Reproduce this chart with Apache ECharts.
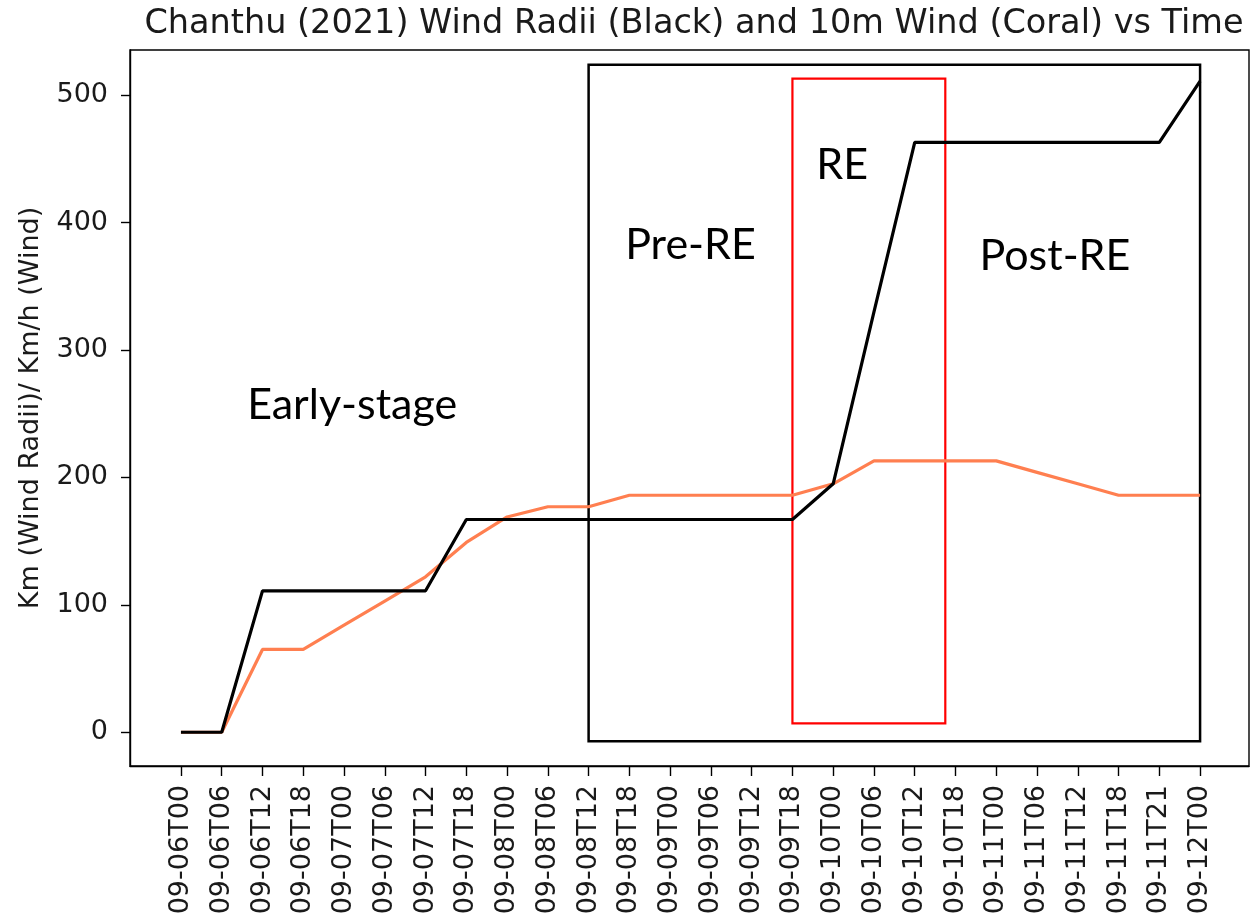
<!DOCTYPE html>
<html>
<head>
<meta charset="utf-8">
<script src="https://cdn.jsdelivr.net/npm/echarts@6/dist/echarts.min.js"></script>
<style>html,body{margin:0;padding:0;background:#fff}#c{width:1250px;height:921px}</style>
</head>
<body>
<div id="c"></div>
<script>
const categories = ['09-06T00','09-06T06','09-06T12','09-06T18','09-07T00','09-07T06','09-07T12','09-07T18','09-08T00','09-08T06','09-08T12','09-08T18','09-09T00','09-09T06','09-09T12','09-09T18','09-10T00','09-10T06','09-10T12','09-10T18','09-11T00','09-11T06','09-11T12','09-11T18','09-11T21','09-12T00'];
const windRadii = [0,0,111,111,111,111,111,167,167,167,167,167,167,167,167,167,195,330,463,463,463,463,463,463,463,511];
const wind10m = [0,0,65,65,84,103,122,149,169,177,177,186,186,186,186,186,195,213,213,213,213,204,195,186,186,186];
const yTicks = [0,100,200,300,400,500];
// stage boxes in data units: [xStart, yBottom, xEnd, yTop]
const stageBox = [10, -7, 25, 524];
const reBox = [15, 7, 18.75, 513];
// stage labels in data units
const stageLabels = ['Early-stage','Pre-RE','RE','Post-RE'];
const stageLabelX = [4.2, 12.5, 16.22, 21.44];
const stageLabelY = [257, 382, 445, 374];

const xIdx = categories.map((_, i) => i);
const chart = echarts.init(document.getElementById('c'), null, {renderer:'canvas'});
const tickFont = {fontFamily:'DejaVu Sans', fontSize:27, color:'#1a1a1a'};
chart.setOption({
  animation:false,
  backgroundColor:'#fff',
  title:{
    text:'Chanthu (2021) Wind Radii (Black) and 10m Wind (Coral) vs Time',
    left:689, textAlign:'center', top:2,
    textStyle:{fontFamily:'DejaVu Sans', fontSize:33.5, fontWeight:'normal', color:'#1a1a1a'}
  },
  grid:{left:130, top:50, right:1, bottom:155, show:true, borderColor:'#000', borderWidth:1.4, backgroundColor:'transparent'},
  xAxis:{
    type:'value', min:-1.25, max:26.2,
    splitLine:{show:false},
    axisLine:{show:true, onZero:false, lineStyle:{color:'#000', width:1.4}},
    axisTick:{show:true, customValues:xIdx, length:10, lineStyle:{color:'#000', width:1.4}},
    axisLabel:Object.assign({customValues:xIdx, rotate:90, margin:19, formatter:v=>categories[Math.round(v)]||''}, tickFont)
  },
  yAxis:{
    type:'value', min:-26.5, max:535.5,
    splitLine:{show:false},
    axisLine:{show:true, onZero:false, lineStyle:{color:'#000', width:1.4}},
    axisTick:{show:true, customValues:yTicks, length:9, lineStyle:{color:'#000', width:1.4}},
    axisLabel:Object.assign({customValues:yTicks, margin:22}, tickFont),
    name:'Km (Wind Radii)/ Km/h (Wind)', nameLocation:'middle', nameGap:86, nameRotate:90,
    nameTextStyle:{fontFamily:'DejaVu Sans', fontSize:27, color:'#1a1a1a'}
  },
  series:[
    {
      name:'Wind Radii', type:'line', symbol:'none', z:3,
      data:windRadii.map((v,i)=>[i,v]),
      lineStyle:{color:'#000', width:3.2},
      markArea:{
        silent:true,
        data:[
          [{coord:[stageBox[0], stageBox[1]], itemStyle:{color:'rgba(0,0,0,0)', borderColor:'#000', borderWidth:2.5}},
           {coord:[stageBox[2], stageBox[3]]}],
          [{coord:[reBox[0], reBox[1]], itemStyle:{color:'rgba(0,0,0,0)', borderColor:'#ff0000', borderWidth:2.2}},
           {coord:[reBox[2], reBox[3]]}]
        ]
      },
      markPoint:{
        silent:true, symbol:'circle', symbolSize:1, itemStyle:{color:'rgba(0,0,0,0)'},
        label:{show:true, position:'inside', fontFamily:'Lato', fontSize:43, color:'#000', formatter:p=>p.name},
        data:stageLabels.map((t,i)=>({name:t, coord:[stageLabelX[i], stageLabelY[i]]}))
      }
    },
    {
      name:'10m Wind', type:'line', symbol:'none', z:2,
      data:wind10m.map((v,i)=>[i,v]),
      lineStyle:{color:'#ff7f50', width:3.2}
    }
  ]
});
</script>
</body>
</html>
